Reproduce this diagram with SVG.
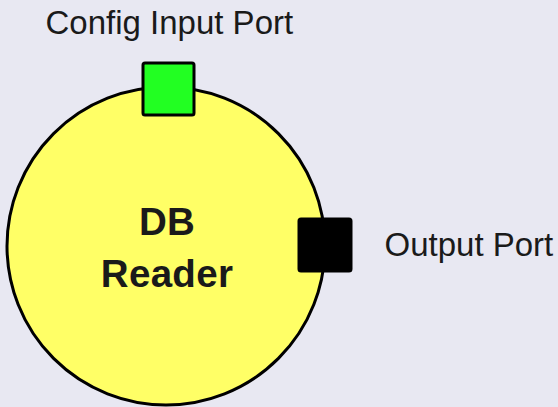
<svg xmlns="http://www.w3.org/2000/svg" width="558" height="407" viewBox="0 0 558 407">
  <style>
    .label { font-family: "Liberation Sans", Arial, sans-serif; font-size: 33px; fill: #1a1a1a; }
    .title { font-family: "Liberation Sans", Arial, sans-serif; font-size: 38.5px; font-weight: bold; fill: #1a1a1a; text-anchor: middle; letter-spacing: 0.3px; }
    .port { stroke: #000; stroke-width: 3; }
  </style>
  <rect width="558" height="407" fill="#E8E8F2"/>
  <g id="db-reader">
    <circle cx="166" cy="246" r="159" fill="#FFFF66" stroke="#000" stroke-width="3"/>
    <text class="title" x="167" y="235">DB</text>
    <text class="title" x="167" y="287">Reader</text>
  </g>
  <g id="config-input-port">
    <rect class="port" x="143" y="63" width="51" height="52" rx="2" fill="#22FF22"/>
    <text class="label" x="45.5" y="33.5">Config Input Port</text>
  </g>
  <g id="output-port">
    <rect class="port" x="299" y="219" width="52" height="52" rx="2" fill="#000"/>
    <text class="label" x="384.5" y="256">Output Port</text>
  </g>
  <g id="connectors"/>
</svg>
